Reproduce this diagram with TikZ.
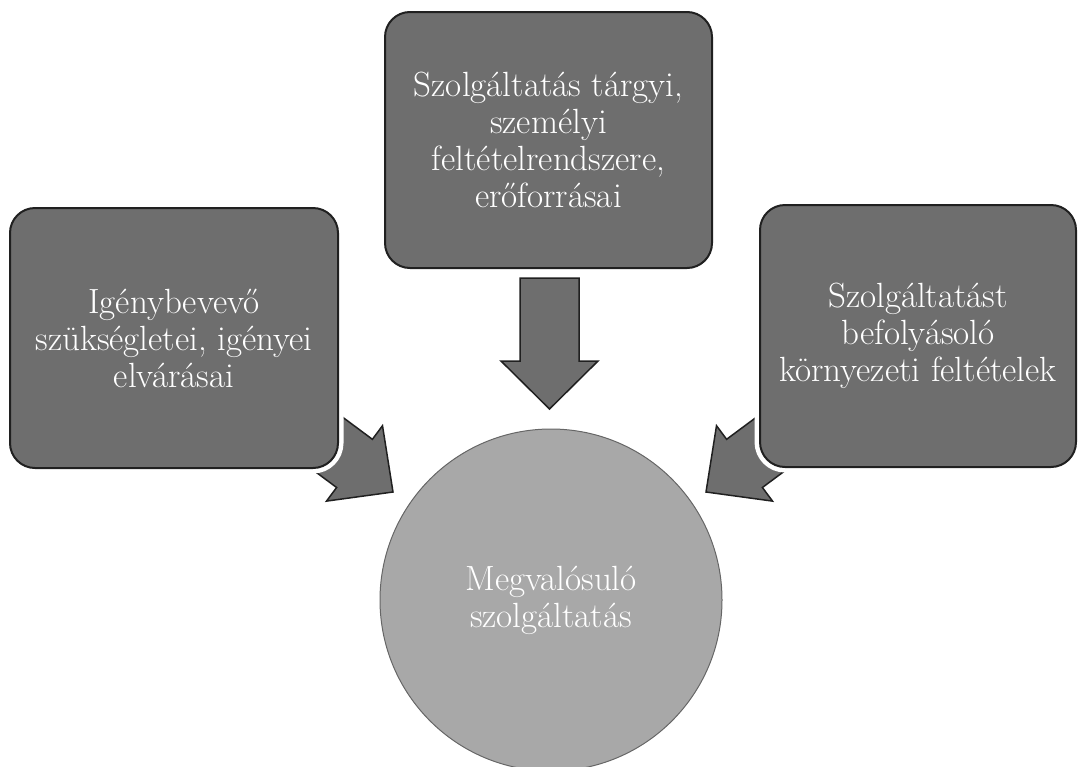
\documentclass[tikz,border=0pt]{standalone}
\usepackage{fontspec}
\definecolor{boxgray}{HTML}{6E6E6E}
\definecolor{circgray}{HTML}{A8A8A8}
\definecolor{edgegray}{HTML}{202020}
\tikzset{
  infobox/.style={rectangle, rounded corners=25pt, fill=boxgray, draw=edgegray, line width=2pt,
    preaction={draw=white, line width=11pt},
    inner sep=0pt, align=center, text=white,
    font=\fontsize{35}{37}\selectfont},
  blockarrow/.style={fill=boxgray, draw=edgegray, line width=1.5pt, line join=miter},
  resultcirc/.style={circle, fill=circgray, draw=gray!80!black, line width=1pt,
    inner sep=0pt, align=center, text=white, font=\fontsize{35}{37}\selectfont}
}
\begin{document}
\begin{tikzpicture}[x=1pt,y=-1pt]
\useasboundingbox (0,0) rectangle (1078,766);
% result circle
\node[resultcirc, minimum size=342pt] (res) at (551,600) {Megvalósuló\\szolgáltatás};
% arrows (drawn before the boxes so the boxes cover their tails)
\coordinate (lt) at (393,492);
\draw[blockarrow] (272.4,439.8) -- (336.6,487.5) -- (326.5,501.1) -- (lt)
  -- (382.5,425.7) -- (372.4,439.3) -- (308.2,391.6) -- cycle;
\coordinate (rt) at (706,492);
\draw[blockarrow] (826.6,439.8) -- (762.4,487.5) -- (772.5,501.1) -- (rt)
  -- (716.5,425.7) -- (726.6,439.3) -- (790.8,391.6) -- cycle;
\coordinate (dt) at (549.5,409);
\draw[blockarrow] (520,278) -- (579,278) -- (579,361) -- (598,361) -- (dt)
  -- (501,361) -- (520,361) -- cycle;
% boxes
\node[infobox, minimum width=328pt, minimum height=260pt] (left) at (174,338)
  {Igénybevevő\\szükségletei, igényei\\elvárásai};
\node[infobox, minimum width=327pt, minimum height=256pt] (top) at (548.5,140)
  {Szolgáltatás tárgyi,\\személyi\\feltételrendszere,\\erőforrásai};
\node[infobox, minimum width=316pt, minimum height=262pt] (right) at (918,336)
  {Szolgáltatást\\befolyásoló\\környezeti feltételek};
\end{tikzpicture}
\end{document}
